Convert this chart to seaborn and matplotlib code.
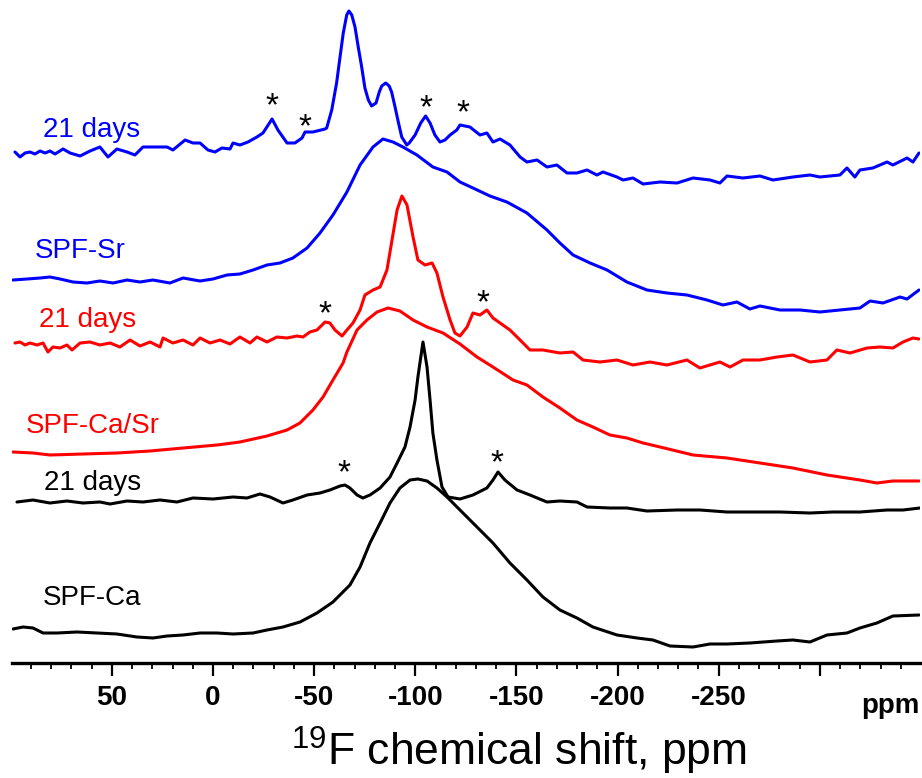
import matplotlib
matplotlib.use("Agg")
import matplotlib.pyplot as plt
import seaborn as sns
import numpy as np
import pandas as pd
from matplotlib.ticker import MultipleLocator, FixedLocator

# ---------------- data: chemical shift (ppm) and intensity above each trace's own baseline ----------------
sr21_ppm = [97.9, 95.4, 92.9, 90.5, 88.0, 85.5, 83.0, 80.6, 78.1, 74.1, 70.7, 65.7, 60.8, 55.9,
            51.9, 47.5, 42.5, 38.6, 34.6, 27.7, 22.7, 19.8, 13.8, 9.9, 6.4, 2.5, -1.0, -4.4,
            -8.4, -9.9, -13.3, -17.3, -21.7, -24.7, -29.2, -32.1, -36.6, -40.5, -44.0, -45.5,
            -49.4, -55.4, -56.2, -58.7, -61.1, -62.8, -64.4, -66.1, -67.2, -68.6, -70.2, -71.8,
            -73.5, -75.1, -76.8, -78.4, -80.6, -82.2, -83.4, -85.4, -87.1, -88.3, -90.0, -91.6,
            -93.3, -95.8, -97.0, -99.9, -102.7, -105.1, -107.3, -109.7, -112.2, -114.7, -117.2,
            -120.5, -122.1, -127.0, -132.0, -135.4, -138.4, -141.9, -146.8, -151.8, -155.2,
            -160.2, -165.1, -170.0, -175.0, -179.9, -184.9, -189.8, -192.8, -199.7, -202.7,
            -207.6, -212.6, -221.0, -229.4, -237.3, -245.7, -250.6, -254.1, -262.0, -270.4,
            -276.8, -286.7, -295.1, -300.0, -309.9, -313.4, -317.3, -319.8, -326.2, -333.2,
            -336.1, -343.1, -346.0, -349.0]
sr21_int = [1, -4, 0, 1, -1, 2, 0, 2, -1, 4, 0, -3, 2, 6,
            -4, 4, 1, -2, 6, 6, 6, 3, 13, 10, 10, 3, 1, 5,
            4, 10, 8, 11, 16, 20, 34, 23, 10, 10, 15, 21,
            21, 24, 25, 43, 70, 96, 120, 138, 142, 138, 126, 106,
            86, 65, 53, 47, 50, 61, 67, 70, 67, 61, 46, 31,
            16, 8, 10, 18, 30, 37, 30, 18, 11, 13, 18,
            23, 28, 26, 18, 20, 11, 14, 8, -4, -9,
            -7, -14, -12, -20, -20, -17, -22, -19, -24, -27,
            -25, -31, -29, -30, -25, -27, -30, -23, -25, -23,
            -27, -24, -22, -24, -22, -15, -24, -17, -15, -9,
            -12, -5, -9, 0]

sr_ppm = [98.9, 91.9, 85.5, 80.6, 75.6, 69.2, 62.3, 55.9, 49.4, 42.5, 36.1, 29.7, 21.3, 14.8,
          6.4, 0.0, -6.9, -13.3, -19.8, -26.7, -33.1, -39.5, -46.5, -52.9, -59.3, -66.2, -72.7,
          -79.1, -84.0, -89.0, -93.9, -100.8, -108.7, -115.7, -122.1, -128.5, -136.9, -145.3,
          -155.2, -165.1, -171.5, -178.0, -186.4, -194.8, -204.6, -214.5, -224.4, -234.3,
          -244.2, -252.1, -259.0, -265.4, -270.4, -280.3, -290.2, -300.0, -309.9, -319.8,
          -324.8, -331.2, -339.6, -343.1, -349.0]
sr_int = [1, 2, 3, 4, 2, -1, -2, 0, -2, 1, -1, 1, -2, 3,
          0, 2, 6, 7, 11, 16, 18, 23, 33, 48, 66, 89, 116,
          134, 142, 139, 134, 126, 114, 109, 99, 93, 85, 79,
          68, 51, 38, 26, 18, 11, -1, -9, -12, -14,
          -19, -24, -21, -28, -25, -29, -29, -31, -29, -27,
          -20, -22, -16, -18, -9]

casr21_ppm = [97.9, 95.4, 92.9, 90.5, 87.0, 84.0, 81.6, 79.1, 75.6, 72.2, 69.7, 65.7, 60.8, 55.9,
              50.9, 46.0, 41.0, 36.1, 31.1, 26.2, 24.7, 19.8, 14.8, 9.9, 6.4, 1.5, -3.5, -8.4,
              -13.3, -18.3, -21.7, -26.7, -31.6, -36.6, -41.5, -44.5, -47.9, -51.4, -55.4, -57.8,
              -60.3, -63.8, -66.2, -69.2, -72.7, -75.1, -79.1, -82.6, -86.0, -88.5, -91.0, -93.4,
              -95.9, -98.9, -101.3, -104.8, -108.3, -110.7, -113.7, -117.2, -119.6, -122.1,
              -125.6, -128.5, -132.0, -135.4, -138.4, -141.9, -146.8, -151.8, -156.7, -163.1,
              -171.5, -178.0, -182.9, -191.3, -199.7, -207.6, -216.0, -224.4, -234.3, -240.7,
              -250.6, -255.6, -262.0, -270.4, -278.8, -286.7, -295.1, -303.5, -308.4, -314.9,
              -323.3, -329.7, -336.1, -341.1, -346.0, -349.0]
casr21_int = [0, 1, -2, 0, -2, 0, -9, -4, -5, -2, -7, 0, 1, -2,
              0, -4, 3, -3, 1, -4, 5, 0, 3, -2, 5, 0, 3, -1,
              6, 0, 6, 1, 6, 5, 7, 6, 11, 13, 21, 20,
              13, 7, 13, 20, 33, 48, 53, 56, 73, 103, 133, 147,
              138, 106, 83, 78, 80, 70, 46, 23, 10, 7,
              16, 30, 28, 33, 25, 20, 13, 3, -7, -7,
              -10, -9, -17, -19, -17, -22, -19, -22, -17, -25,
              -19, -24, -17, -17, -14, -12, -19, -17, -7, -10,
              -5, -4, -5, 1, 5, 4]

casr_ppm = [98.9, 89.0, 80.6, 64.3, 47.5, 31.1, 14.8, -2.0, -13.3, -26.7, -36.6, -43.0, -49.4,
            -54.4, -59.3, -64.3, -66.2, -71.2, -76.1, -81.1, -86.5, -92.4, -98.9, -105.8,
            -113.7, -122.1, -130.5, -138.4, -148.3, -155.2, -163.1, -171.5, -179.9, -187.8,
            -196.2, -204.6, -212.6, -221.0, -237.3, -254.1, -270.4, -286.7, -303.5, -319.8,
            -328.2, -336.1, -349.0]
casr_int = [1, 0, -2, -1, 0, 2, 5, 8, 11, 17, 23, 30, 43,
            56, 73, 90, 101, 123, 133, 141, 145, 142, 133, 126,
            120, 109, 96, 86, 73, 68, 56, 45, 33, 26,
            18, 15, 10, 6, -2, -5, -10, -15, -22, -27,
            -30, -28, -28]

ca21_ppm = [96.9, 89.0, 80.6, 72.2, 64.3, 55.9, 50.9, 42.5, 34.6, 26.2, 17.8, 9.9, 0.0, -9.9,
            -16.8, -23.2, -28.2, -34.6, -39.5, -46.5, -52.9, -57.8, -62.8, -65.2, -67.7, -71.2,
            -74.1, -77.6, -82.6, -87.5, -91.0, -94.9, -97.4, -99.9, -101.3, -103.8, -105.8,
            -107.3, -108.7, -110.7, -113.2, -116.2, -122.1, -128.5, -135.4, -138.4, -140.9,
            -144.3, -150.3, -156.7, -165.1, -171.5, -179.9, -184.9, -196.2, -204.6, -214.5,
            -229.4, -240.7, -254.1, -266.9, -280.3, -295.1, -306.5, -319.8, -333.2, -341.1, -349.5]
ca21_int = [0, 2, -1, 1, -1, 0, -2, 1, 0, 2, 0, 4, 3, 5,
            4, 8, 5, -1, 2, 7, 9, 12, 16, 17, 14, 7,
            4, 7, 14, 25, 39, 55, 75, 102, 125, 160, 135,
            102, 69, 42, 15, 5, 3, 7, 14, 22, 30,
            22, 12, 7, 0, 1, 0, -5, -6, -6, -9,
            -8, -8, -10, -10, -10, -11, -10, -10, -8, -8, -6]

ca_ppm = [98.9, 93.9, 89.0, 84.0, 77.1, 67.2, 57.3, 47.5, 37.6, 29.7, 22.7, 14.8, 6.4, -2.0,
          -9.9, -19.8, -26.7, -34.6, -43.0, -51.4, -59.3, -67.7, -72.7, -77.6, -82.6, -87.5,
          -92.4, -97.4, -101.3, -105.8, -110.7, -115.7, -122.1, -130.5, -138.4, -146.8,
          -155.2, -163.1, -171.5, -179.9, -187.8, -199.7, -209.6, -217.5, -225.9, -237.3,
          -245.7, -254.1, -265.4, -278.8, -286.7, -295.1, -303.5, -313.4, -319.8, -328.2,
          -336.1, -349.0]
ca_int = [3, 5, 4, -1, -1, 0, -1, -2, -5, -6, -4, -3, -1, -1,
          -2, -1, 2, 5, 10, 19, 30, 47, 65, 89, 109, 129,
          144, 152, 153, 151, 144, 135, 122, 105, 89, 69,
          52, 35, 22, 14, 5, -3, -6, -8, -14, -15,
          -12, -12, -11, -9, -8, -10, -3, -1, 4, 9,
          16, 17]

names = ["21 days", "SPF-Sr", "21 days", "SPF-Ca/Sr", "21 days", "SPF-Ca"]
offsets = [625, 497, 435, 325, 276, 146]
colors = ["#0000ff", "#0000ff", "#ff0000", "#ff0000", "#000000", "#000000"]
series_ppm = [sr21_ppm, sr_ppm, casr21_ppm, casr_ppm, ca21_ppm, ca_ppm]
series_int = [sr21_int, sr_int, casr21_int, casr_int, ca21_int, ca_int]

# spinning-sideband asterisks: position (ppm), trace index, height above that baseline
star_ppm = [-29.2, -45.5, -105.3, -123.6, -55.4, -133.5, -64.8, -140.4]
star_idx = [0, 0, 0, 0, 2, 2, 4, 4]
star_h = [57, 36, 55, 50, 39, 50, 39, 49]

xticks_major = [50, 0, -50, -100, -150, -200, -250, -300]
xtick_labels = ["50", "0", "-50", "-100", "-150", "-200", "-250", ""]

# ---------------- figure ----------------
sns.set_style("white")
plt.rcParams["font.family"] = ["Liberation Sans", "DejaVu Sans"]
plt.rcParams["mathtext.default"] = "regular"
plt.rcParams["mathtext.fontset"] = "custom"
plt.rcParams["mathtext.rm"] = "Liberation Sans"
plt.rcParams["text.color"] = "black"
plt.rcParams["xtick.color"] = "black"
plt.rcParams["xtick.labelcolor"] = "black"

W, H = 922, 778
fig = plt.figure(figsize=(W / 100, H / 100), dpi=100)
ax = fig.add_axes([12 / W, 0, (920 - 12) / W, 1])
ax.set_xlim(99.36, -349.5)
ax.set_ylim(0, H)

for p, it, off, c in zip(series_ppm, series_int, offsets, colors):
    df = pd.DataFrame({"ppm": p, "y": np.asarray(it, float) + off})
    sns.lineplot(data=df, x="ppm", y="y", color=c, lw=2.2, sort=False,
                 estimator=None, ax=ax)

label_pos = [(43, 137), (35, 258), (39, 327), (26, 433), (44, 490), (43, 605)]
for (px, py), name, c in zip(label_pos, names, colors):
    fig.text(px / W, 1 - py / H, name, color=c, fontsize=20, ha="left", va="baseline")

fs_star = 24
for sp, si, sh in zip(star_ppm, star_idx, star_h):
    ax.annotate("*", (sp, offsets[si] + sh), xytext=(0, -0.575 * fs_star),
                textcoords="offset points", fontsize=fs_star, ha="center",
                va="baseline", color="black")

# axis styling
for s in ["top", "left", "right"]:
    ax.spines[s].set_visible(False)
axis_y = H - 663
ax.spines["bottom"].set_position(("data", axis_y))
ax.spines["bottom"].set_linewidth(2.4)
ax.spines["bottom"].set_color("black")
ax.set_yticks([])
ax.xaxis.set_major_locator(FixedLocator(xticks_major))
ax.set_xticklabels(xtick_labels)
ax.xaxis.set_minor_locator(MultipleLocator(10))
ax.tick_params(axis="x", which="both", bottom=True, top=False, colors="black")
ax.tick_params(axis="x", which="major", direction="out", length=9.5, width=1.6,
               pad=6, labelsize=20)
ax.tick_params(axis="x", which="minor", direction="out", length=4.5, width=1.3)
for t in ax.get_xticklabels():
    t.set_fontweight("bold")
ax.set_xlabel("")
ax.set_ylabel("")

fig.text(890 / W, 1 - 706 / H, "ppm", fontsize=20, fontweight="bold", ha="center",
         va="center")
fig.text(519 / W, 1 - 751 / H, r"$^{19}$F chemical shift, ppm", fontsize=32,
         ha="center", va="center")

fig.savefig("out.png", dpi=100)
